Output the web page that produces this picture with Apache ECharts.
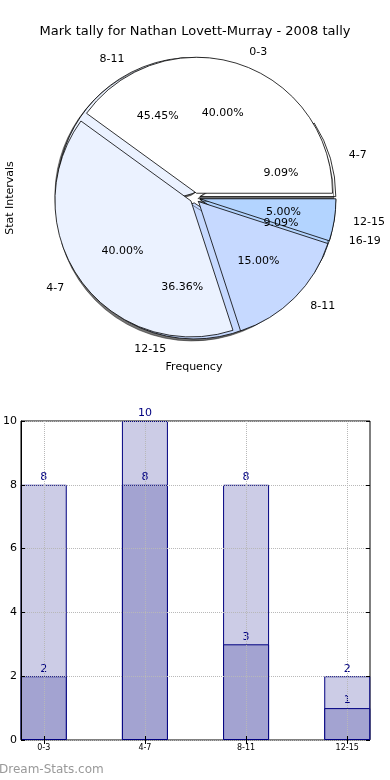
<!DOCTYPE html>
<html><head><meta charset="utf-8">
<script src="https://cdn.jsdelivr.net/npm/echarts@6/dist/echarts.min.js"></script>
<style>html,body{margin:0;padding:0;background:#fff}#c{width:390px;height:780px}</style>
</head><body><div id="c"></div>
<script>
const pieFrontNames = ['0-3', '4-7', '8-11', '12-15'];
const pieFrontValues = [8, 8, 3, 1];
const pieBackNames = ['4-7', '8-11', '12-15', '16-19'];
const pieBackValues = [2, 10, 8, 2];
const pieColors = ['#ffffff', '#ebf2ff', '#c6d9ff', '#b3d4ff'];

const barCategories = ['0-3', '4-7', '8-11', '12-15'];
const barLight = [8, 10, 8, 2];
const barDark = [2, 8, 3, 1];
const yTicks = [0, 2, 4, 6, 8, 10];

const FONT = 'DejaVu Sans';
const R = 136, C = [195, 198];

function pieData(names, values, transparent) {
  return names.map((n, i) => ({
    name: n, value: values[i], selected: true,
    itemStyle: { color: transparent ? 'rgba(0,0,0,0)' : pieColors[i] }
  }));
}
function pctFmt(values) {
  const t = values.reduce((a, b) => a + b, 0);
  return p => (p.value / t * 100).toFixed(2) + '%';
}
const basePie = {
  type: 'pie', center: C, startAngle: 0, clockwise: false,
  selectedMode: 'multiple', selectedOffset: 5, avoidLabelOverlap: false,
  labelLayout: { hideOverlap: false },
  emphasis: { disabled: true }, animation: false, silent: true
};
const nameLabel = { position: 'outside', formatter: '{b}', fontSize: 11, color: '#000', fontFamily: FONT };
const nameLine = { show: false, length: 12, length2: 2 };
const pctLabel = vals => ({
  position: 'inside', formatter: pctFmt(vals), fontSize: 11, color: '#000', fontFamily: FONT
});

const chart = echarts.init(document.getElementById('c'), null, { renderer: 'canvas' });
chart.setOption({
  animation: false,
  backgroundColor: '#fff',
  textStyle: { fontFamily: FONT },
  title: {
    text: 'Mark tally for Nathan Lovett-Murray - 2008 tally',
    left: 'center', top: 20,
    textStyle: { fontSize: 13, fontWeight: 'normal', color: '#000', fontFamily: FONT }
  },
  graphic: [
    { type: 'text', x: 10, y: 198, rotation: Math.PI / 2, style: { text: 'Stat Intervals', font: '11px "DejaVu Sans"', fill: '#000', textAlign: 'center', textVerticalAlign: 'middle' } },
    { type: 'text', x: 194, y: 367, style: { text: 'Frequency', font: '11px "DejaVu Sans"', fill: '#000', textAlign: 'center', textVerticalAlign: 'middle' } },
    { type: 'text', x: -1, y: 770, style: { text: 'Dream-Stats.com', font: '12px "DejaVu Sans"', fill: '#999999', textAlign: 'left', textVerticalAlign: 'middle' } }
  ],
  grid: { left: 19, right: 20, top: 421, bottom: 40, show: true, borderColor: '#000', borderWidth: 1 },
  xAxis: [{
    type: 'value', min: -0.225, max: 3.225, z: 10,
    axisLine: { show: false },
    axisTick: { show: true, inside: true, length: 4, customValues: [0, 1, 2, 3], lineStyle: { color: '#000' } },
    axisLabel: { customValues: [0, 1, 2, 3], formatter: v => barCategories[Math.round(v)], fontSize: 8, color: '#000', fontFamily: FONT, margin: 4 },
    splitLine: { show: true, lineStyle: { type: 'dotted', color: '#b8b8b8', width: 1 } }
  }, {
    type: 'value', position: 'top', min: -0.225, max: 3.225, z: 10,
    axisLine: { show: false },
    axisTick: { show: true, inside: true, length: 4, customValues: [0, 1, 2, 3], lineStyle: { color: '#000' } },
    axisLabel: { show: false }, splitLine: { show: false }
  }],
  yAxis: [{
    type: 'value', min: 0, max: 10, interval: 2, z: 10,
    axisLine: { show: true, onZero: false, lineStyle: { color: '#000' } },
    axisTick: { show: true, inside: true, length: 4, lineStyle: { color: '#000' } },
    axisLabel: { fontSize: 11, color: '#000', fontFamily: FONT, margin: 4, formatter: v => yTicks.includes(v) ? String(v) : '' },
    splitLine: { show: true, lineStyle: { type: 'dotted', color: '#b8b8b8', width: 1 } }
  }, {
    type: 'value', position: 'right', min: 0, max: 10, interval: 2, z: 10,
    axisLine: { show: false, onZero: false },
    axisTick: { show: true, inside: true, length: 4, lineStyle: { color: '#000' } },
    axisLabel: { show: false }, splitLine: { show: false }
  }],
  series: [
    Object.assign({}, basePie, {
      radius: [0, R], z: 2, data: pieData(pieBackNames, pieBackValues, false),
      itemStyle: { borderColor: '#000', borderWidth: 0.8, shadowColor: 'rgba(0,0,0,0.55)', shadowOffsetX: -2, shadowOffsetY: 2, shadowBlur: 0 },
      label: nameLabel, labelLine: nameLine
    }),
    Object.assign({}, basePie, {
      radius: [0, R], z: 3, data: pieData(pieFrontNames, pieFrontValues, false),
      itemStyle: { borderColor: '#000', borderWidth: 0.8 },
      label: nameLabel, labelLine: nameLine
    }),
    Object.assign({}, basePie, {
      radius: [0, R * 1.2], z: 5, data: pieData(pieFrontNames, pieFrontValues, true),
      itemStyle: { borderWidth: 0 }, label: pctLabel(pieFrontValues), labelLine: { show: false }
    }),
    Object.assign({}, basePie, {
      radius: [0, R * 1.2], z: 5, data: pieData(pieBackNames, pieBackValues, true),
      itemStyle: { borderWidth: 0 }, label: pctLabel(pieBackValues), labelLine: { show: false }
    }),
    {
      type: 'bar', barWidth: 46, barGap: '-100%', z: 2,
      data: barLight.map((v, i) => [i, v]),
      itemStyle: { color: '#ccccE6', borderColor: '#000080', borderWidth: 1 },
      label: { show: true, position: 'top', color: '#000080', fontSize: 11, fontFamily: FONT, distance: 2, formatter: p => p.value[1] },
      emphasis: { disabled: true }
    },
    {
      type: 'bar', barWidth: 46, barGap: '-100%', z: 3,
      data: barDark.map((v, i) => [i, v]),
      itemStyle: { color: '#a3a3d1', borderColor: '#000080', borderWidth: 1 },
      label: { show: true, position: 'top', color: '#000080', fontSize: 11, fontFamily: FONT, distance: 2, formatter: p => p.value[1] },
      emphasis: { disabled: true }
    }
  ]
});
</script>
</body></html>
